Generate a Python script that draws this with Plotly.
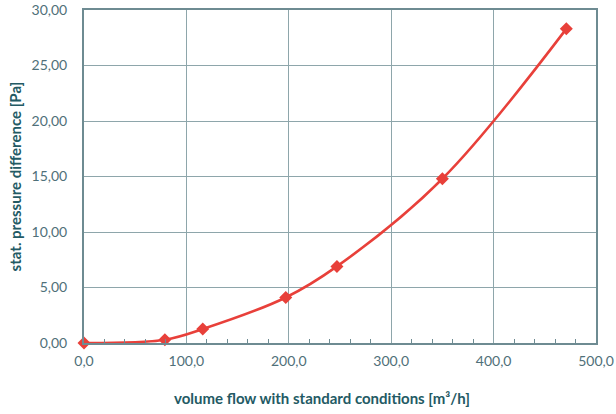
import plotly.graph_objects as go

flow = [0, 79, 116, 197, 247, 350, 471]
pressure = [0.0, 0.3, 1.26, 4.1, 6.9, 14.8, 28.3]

x_title = "volume flow with standard conditions [m³/h]"
y_title = "stat. pressure difference [Pa]"

FONT = "Lato, 'Open Sans', sans-serif"
LINE = "#e8403a"
AXIS = "#6e8b92"
GRID = "#8ea6ab"
TICKTXT = "#4f7079"
TITLE = "#235a64"

fig = go.Figure()
fig.add_trace(go.Scatter(
    x=flow, y=pressure, mode="lines+markers",
    line=dict(color=LINE, width=2.6, shape="spline", smoothing=1.0),
    marker=dict(symbol="diamond", size=10, color=LINE),
    showlegend=False, cliponaxis=False,
))

fig.update_layout(
    width=616, height=414,
    margin=dict(l=84, r=20, t=10, b=71, autoexpand=False),
    paper_bgcolor="white", plot_bgcolor="white",
    separators=",.",
    font=dict(family=FONT, size=14, color=TICKTXT),
    xaxis=dict(
        range=[0, 500], dtick=100, tick0=0, tickformat=".1f",
        showgrid=True, gridcolor=GRID, gridwidth=1,
        showline=True, linecolor=AXIS, linewidth=2, mirror=True,
        ticks="", zeroline=False, ticklabelstandoff=4, automargin=False,
        minor=dict(ticks="inside", dtick=20, ticklen=4, tickcolor=AXIS, tickwidth=1, showgrid=False),
        tickfont=dict(family=FONT, size=14, color=TICKTXT),
    ),
    yaxis=dict(
        range=[0, 30], dtick=5, tick0=0, tickformat=".2f",
        showgrid=True, gridcolor=GRID, gridwidth=1,
        showline=True, linecolor=AXIS, linewidth=2, mirror=True,
        ticks="", zeroline=False, ticklabelstandoff=12, automargin=False,
        tickfont=dict(family=FONT, size=14, color=TICKTXT),
    ),
    annotations=[
        dict(text=f"<b>{x_title}</b>", xref="paper", yref="paper",
             x=0.465, y=-0.165, xanchor="center", yanchor="middle",
             showarrow=False, font=dict(family=FONT, size=15, color=TITLE)),
        dict(text=f"<b>{y_title}</b>", xref="paper", yref="paper",
             x=-0.135, y=0.5, xanchor="center", yanchor="middle", textangle=-90,
             showarrow=False, font=dict(family=FONT, size=15, color=TITLE)),
    ],
)

fig.write_html("out.html", config={"displayModeBar": False},
               post_script="document.body.style.margin='0';")
